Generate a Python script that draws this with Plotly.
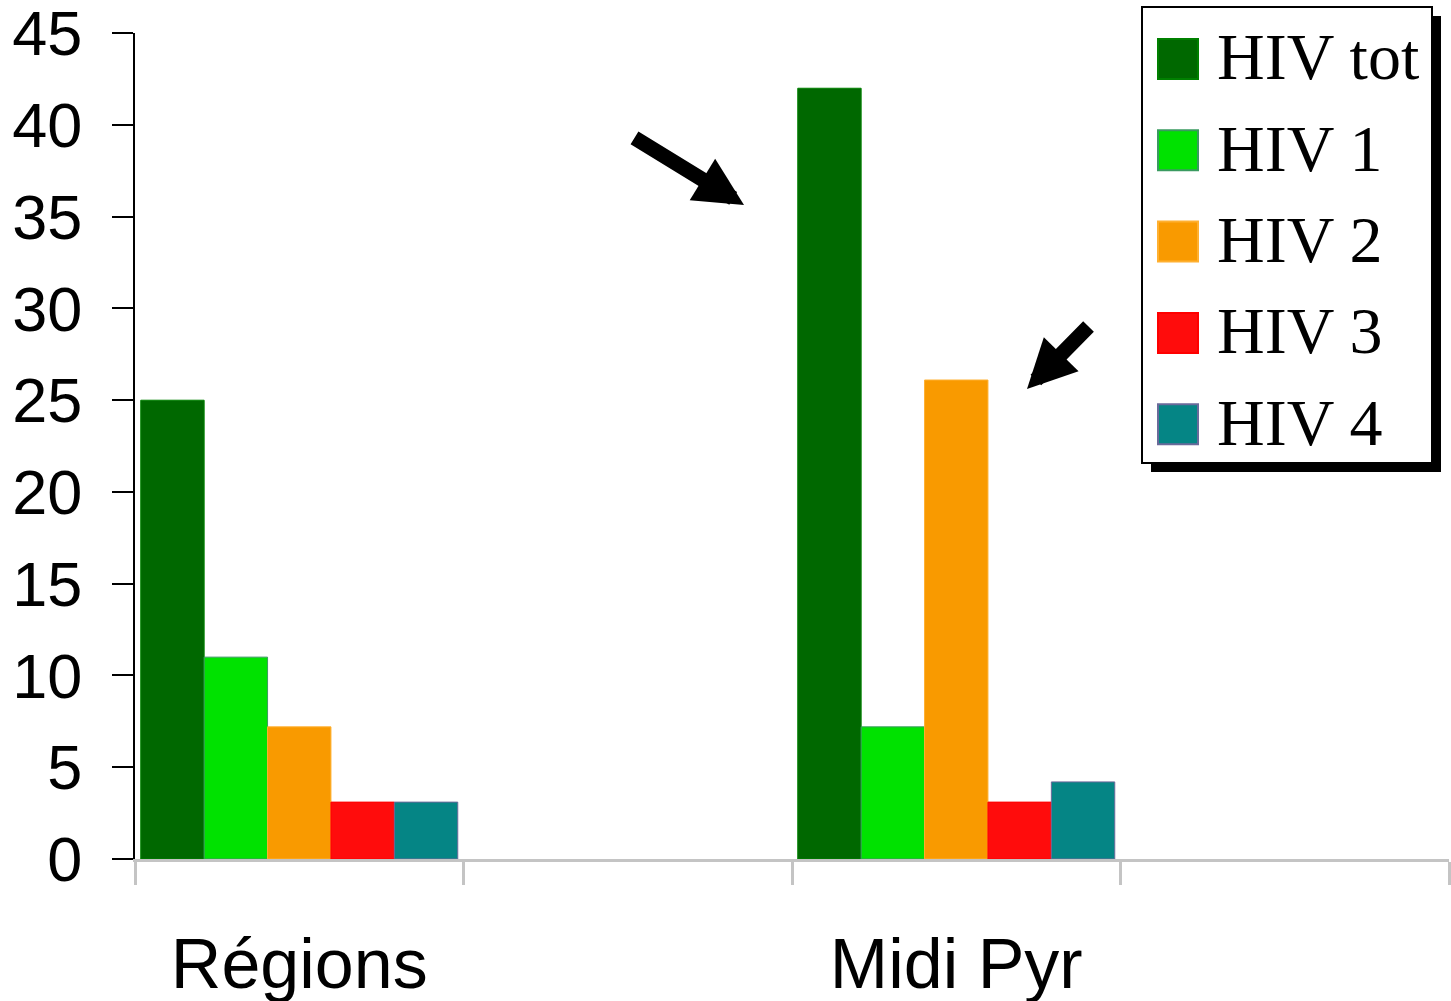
import plotly.graph_objects as go

# ---- data ----
categories = ["Régions", " ", "Midi Pyr", "  "]
groups = ["Régions", "Midi Pyr"]
series_names = ["HIV tot", "HIV 1", "HIV 2", "HIV 3", "HIV 4"]
hiv_tot = [25, 42]
hiv_1 = [11, 7.2]
hiv_2 = [7.2, 26.1]
hiv_3 = [3.1, 3.1]
hiv_4 = [3.1, 4.2]
series_values = [hiv_tot, hiv_1, hiv_2, hiv_3, hiv_4]
y_ticks = [0, 5, 10, 15, 20, 25, 30, 35, 40, 45]

colors = ["#006800", "#00e200", "#f99a00", "#ff0c0c", "#058585"]
edge_colors = ["#008000", "#3a9a60", "#ffb030", "#ff0000", "#6a6a9a"]

W, H = 1451, 1001
ML, MR, MT, MB = 135, 2, 33, 142
PW, PH = W - ML - MR, H - MT - MB


def px_x(p):
    return (p - ML) / PW


def px_y(p):
    return (H - MB - p) / PH


fig = go.Figure()
for name, vals, c, ec in zip(series_names, series_values, colors, edge_colors):
    fig.add_trace(go.Bar(
        x=groups, y=vals, name=name,
        marker=dict(color=c, line=dict(color=ec, width=1)),
        showlegend=False, cliponaxis=False,
    ))

shapes = []
annotations = []

# legend box with shadow (manual, to get large swatches)
lx0, lx1, ly0, ly1 = 1142, 1432, 7, 463
shapes.append(dict(type="rect", xref="paper", yref="paper",
                   x0=px_x(lx0 + 9), x1=px_x(lx1 + 9), y0=px_y(ly1 + 9), y1=px_y(ly0 + 9),
                   fillcolor="black", line=dict(width=0), layer="above"))
shapes.append(dict(type="rect", xref="paper", yref="paper",
                   x0=px_x(lx0), x1=px_x(lx1), y0=px_y(ly1), y1=px_y(ly0),
                   fillcolor="white", line=dict(color="black", width=2), layer="above"))
item_step = 91.3
for i, (name, c, ec) in enumerate(zip(series_names, colors, edge_colors)):
    cy = 59 + i * item_step
    shapes.append(dict(type="rect", xref="paper", yref="paper",
                       x0=px_x(1158), x1=px_x(1198), y0=px_y(cy + 20), y1=px_y(cy - 20),
                       fillcolor=c, line=dict(color=ec, width=2), layer="above"))
    annotations.append(dict(xref="paper", yref="paper", x=px_x(1215), y=px_y(cy - 2),
                            text=name, showarrow=False, xanchor="left", yanchor="middle",
                            font=dict(family="Liberation Serif, Times New Roman, serif",
                                      size=66, color="black")))

# arrows
annotations.append(dict(xref="paper", yref="paper", x=px_x(744), y=px_y(205),
                        ax=-111, ay=-68, text="", showarrow=True,
                        arrowhead=2, arrowwidth=15, arrowsize=0.65, arrowcolor="black"))
annotations.append(dict(xref="paper", yref="paper", x=px_x(1027), y=px_y(389),
                        ax=63, ay=-64, text="", showarrow=True,
                        arrowhead=2, arrowwidth=15, arrowsize=0.65, arrowcolor="black"))

fig.update_layout(
    width=W, height=H,
    margin=dict(l=ML, r=MR, t=MT, b=MB, pad=0, autoexpand=False),
    paper_bgcolor="white", plot_bgcolor="white",
    barmode="group", bargap=0.035, bargroupgap=0,
    shapes=shapes, annotations=annotations,
    showlegend=False,
    font=dict(family="Liberation Sans, Arial, sans-serif", color="black"),
)
fig.update_xaxes(
    type="category", categoryorder="array", categoryarray=categories,
    range=[-0.5, 3.5], tickson="boundaries", automargin=False,
    ticks="outside", ticklen=23, tickwidth=3, tickcolor="#c4c4c4",
    showline=True, linecolor="#c4c4c4", linewidth=3,
    showgrid=False, zeroline=False,
    tickfont=dict(size=70, family="Liberation Sans, Arial, sans-serif"),
    ticklabelstandoff=42, ticklabeloverflow="allow",
)
fig.update_yaxes(
    range=[0, 45.01], tickvals=y_ticks, automargin=False,
    ticks="outside", ticklen=21, tickwidth=2, tickcolor="black",
    showline=True, linecolor="black", linewidth=2,
    showgrid=False, zeroline=False,
    tickfont=dict(size=63, family="Liberation Sans, Arial, sans-serif"),
    ticklabelstandoff=17, ticklabeloverflow="allow",
)

fig.write_html(
    "out.html",
    config={"displayModeBar": False},
    post_script="document.body.style.margin='0px';document.body.style.overflow='hidden';",
)
